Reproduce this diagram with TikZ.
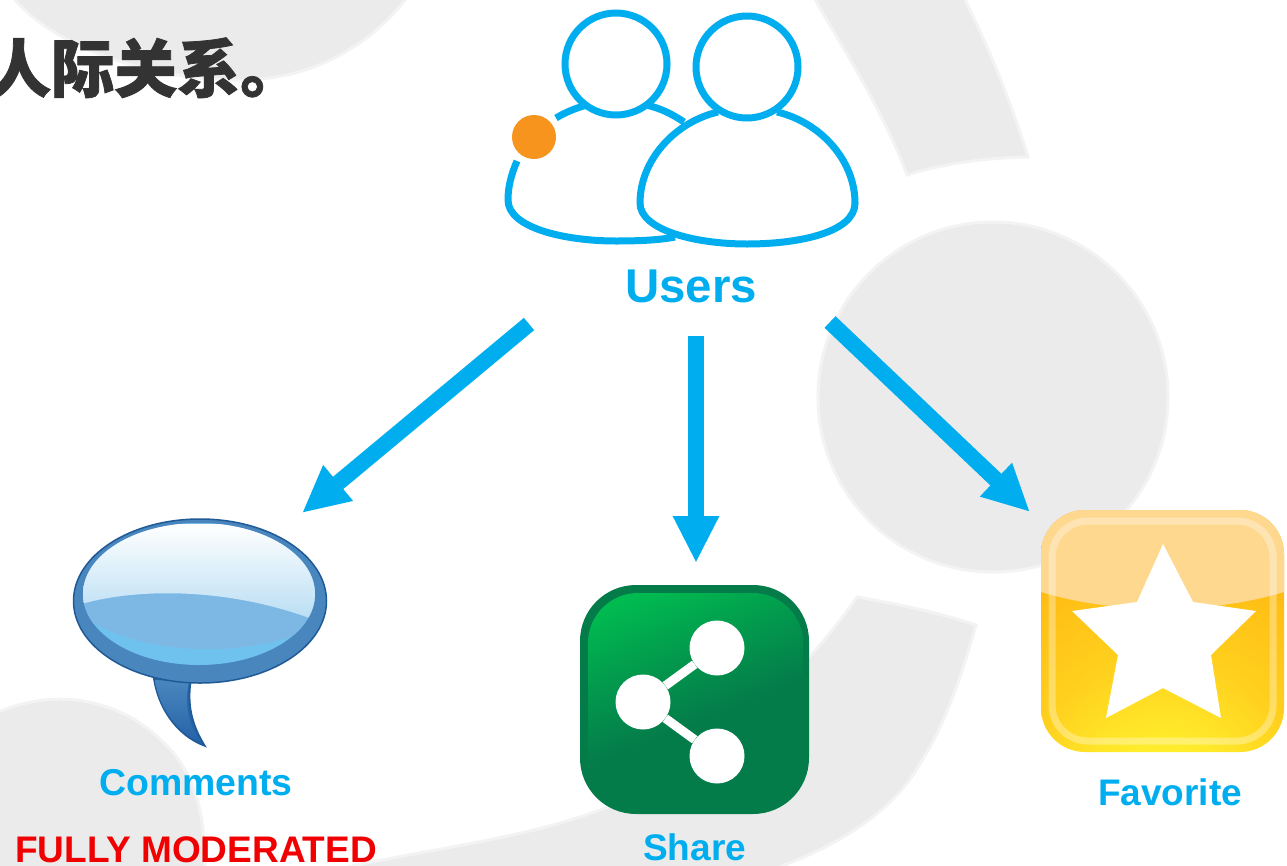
\documentclass[tikz,border=0pt]{standalone}
\usepackage{fontspec}
\setmainfont{Liberation Sans}
\newfontfamily\cjkbold[BoldFeatures={FakeBold=1.2}]{Noto Sans CJK SC}
\usetikzlibrary{arrows.meta}
\definecolor{wmgray}{HTML}{EBEBEB}
\definecolor{wmsoft}{HTML}{F3F3F3}
\definecolor{skyb}{HTML}{00AEEF}
\definecolor{orng}{HTML}{F7941D}
\definecolor{titlec}{HTML}{333333}
\definecolor{grdark}{HTML}{047C4A}
\definecolor{grlite}{HTML}{00BB50}
\definecolor{grmid}{HTML}{029A4D}
\definecolor{bubedge}{HTML}{1F5A96}
\definecolor{bubring}{HTML}{4A86BE}
\definecolor{bubtail}{HTML}{2563A8}
\definecolor{bubmain}{HTML}{88C4EB}
\definecolor{bubside}{HTML}{7DB8E4}
\definecolor{bubrim}{HTML}{6FC2EE}
\definecolor{bubtop}{HTML}{B5DCF3}
\definecolor{favtop}{HTML}{FFD890}
\definecolor{favorg}{HTML}{FFAE0C}
\definecolor{favmid}{HTML}{FFD01E}
\definecolor{favylw}{HTML}{FFF830}
\definecolor{modred}{HTML}{F00000}
\pgfdeclareverticalshading{sharegr}{100bp}{color(0bp)=(grdark);color(46bp)=(grdark);color(62bp)=(grmid);color(78bp)=(grlite);color(100bp)=(grlite)}
\pgfdeclareradialshading{favgr}{\pgfpoint{0bp}{-46bp}}{color(0bp)=(favylw);color(10bp)=(favylw);color(28bp)=(favmid);color(52bp)=(favorg);color(100bp)=(favorg)}
\tikzset{
  x=1pt,y=-1pt,
  wmark/.style={fill=wmgray,draw=wmsoft,line width=3pt},
  userline/.style={draw=skyb,line width=7pt},
  flowarrow/.style={draw=skyb,line width=16pt,-{Triangle[length=47pt,width=43pt,fill=skyb]}},
  lbl/.style={anchor=base west,inner sep=0pt,font=\bfseries\fontsize{37}{40}\selectfont,text=skyb},
  sharedot/.style={circle,fill=white,minimum size=55pt,inner sep=0pt},
}
\begin{document}
\begin{tikzpicture}
\useasboundingbox (0,0) rectangle (1287,865);
\fill[white] (0,0) rectangle (1287,865);
% watermark
\path[wmark] (12,-4) .. controls (50,45) and (150,82) .. (245,80) .. controls (320,78) and (375,40) .. (408,-4) -- cycle;
\path[wmark] (813,-4) .. controls (850,60) and (885,115) .. (907,175) .. controls (945,163) and (985,158) .. (1028,157) .. controls (1010,100) and (990,50) .. (963,-4) -- cycle;
\path[wmark] (993,397) circle (175);
\path[wmark] (857,597) .. controls (930,610) and (950,617) .. (976,625) .. controls (960,680) and (945,725) .. (918,767) .. controls (890,815) and (830,850) .. (770,870) -- (335,870) .. controls (420,850) and (520,840) .. (600,810) .. controls (700,770) and (800,680) .. (857,597) -- cycle;
\path[wmark] (-4,713) .. controls (60,685) and (130,700) .. (175,755) .. controls (198,785) and (205,820) .. (205,870) -- (-4,870) -- cycle;
% title
\node[anchor=base west,inner sep=0pt,text=titlec,font=\cjkbold\bfseries\fontsize{63}{70}\selectfont] (title) at (-12,92) {人际关系。};
% users icon
\coordinate (lbodyA) at (517,161);
\draw[userline] (lbodyA) .. controls (511,175) and (508,187) .. (508,200) .. controls (508,228) and (565,241) .. (616,241) .. controls (640,241) and (660,240) .. (675,237);
\draw[userline] (556,118) .. controls (566,112) and (576,108) .. (587,105);
\draw[userline] (646,105) .. controls (660,108) and (672,114) .. (684,122);
\node[circle,userline,minimum size=102pt,inner sep=0pt] (headL) at (616,64) {};
\node[circle,userline,minimum size=102pt,inner sep=0pt] (headR) at (747,67) {};
\draw[userline] (718,112) .. controls (675,122) and (640,160) .. (640,203) .. controls (640,230) and (695,244) .. (747,244) .. controls (800,244) and (855,232) .. (855,203) .. controls (855,160) and (820,122) .. (777,112);
\node[circle,fill=orng,minimum size=44pt,inner sep=0pt] (dot) at (534,137) {};
\node[lbl,font=\bfseries\fontsize{47.4}{50}\selectfont] (users) at (625,302) {Users};
% arrow ends
\coordinate (a1s) at (529,324);
\coordinate (a1e) at (302,513);
\coordinate (a2s) at (696,336);
\coordinate (a2e) at (696,563);
\coordinate (a3s) at (830,322);
\coordinate (a3e) at (1030,512);
\draw[flowarrow] (a1s) -- (a1e);
\draw[flowarrow] (a2s) -- (a2e);
\draw[flowarrow] (a3s) -- (a3e);
% comments bubble
\path[fill=bubtail,draw=bubedge,line width=1.5pt] (153,672) .. controls (156,705) and (175,735) .. (205,746) .. controls (192,725) and (187,705) .. (191,680) -- cycle;
\shade[top color=bubring,bottom color=bubtail] (155,680) .. controls (158,705) and (176,732) .. (200,742) .. controls (189,725) and (184,705) .. (189,682) -- cycle;
\path[fill=bubring,draw=bubedge,line width=1.5pt] (200,601) ellipse (126.5 and 82);
\fill[bubrim] (199,594) ellipse (116 and 71);
\begin{scope}
\clip (199,594) ellipse (116 and 71);
\shade[left color=bubside,middle color=bubmain,right color=bubside] (75,515) -- (325,515) -- (325,622) .. controls (270,655) and (150,665) .. (75,612) -- cycle;
\begin{scope}
\clip (75,606) .. controls (130,588) and (230,585) .. (325,624) -- (325,515) -- (75,515) -- cycle;
\shade[top color=white,bottom color=bubtop] (75,524) rectangle (325,625);
\end{scope}
\end{scope}
\node[lbl,font=\bfseries\fontsize{37.4}{40}\selectfont] (comments) at (99,795) {Comments};
\node[lbl,text=modred] (moderated) at (15,862) {FULLY MODERATED};
% share icon
\fill[grdark,rounded corners=56pt] (580,585) rectangle (809,814);
\shade[shading=sharegr,shading angle=22,rounded corners=50pt] (588,593) rectangle (803,812);
\node[sharedot] (s1) at (717,648) {};
\node[sharedot] (s2) at (643,702) {};
\node[sharedot] (s3) at (717,756) {};
\draw[white,line width=9pt] (s2) -- (s1);
\draw[white,line width=9pt] (s2) -- (s3);
\node[lbl] (share) at (643,860) {Share};
% favorite icon
\shade[shading=favgr,rounded corners=44pt] (1041,510) rectangle (1284,752);
\begin{scope}
\clip[rounded corners=44pt] (1041,510) rectangle (1284,752);
\fill[favtop] (1035,590) .. controls (1110,615) and (1215,615) .. (1290,590) -- (1290,505) -- (1035,505) -- cycle;
\end{scope}
\draw[white,opacity=.32,line width=7pt,rounded corners=36pt] (1052,521) rectangle (1273,741);
\path[fill=white] (1163,544) -- (1193,602) -- (1256,611) -- (1211,655) -- (1221,718) -- (1163,688) -- (1106,718) -- (1118,655) -- (1072,611) -- (1137,602) -- cycle;
\node[lbl] (favorite) at (1098,805) {Favorite};
\end{tikzpicture}
\end{document}
